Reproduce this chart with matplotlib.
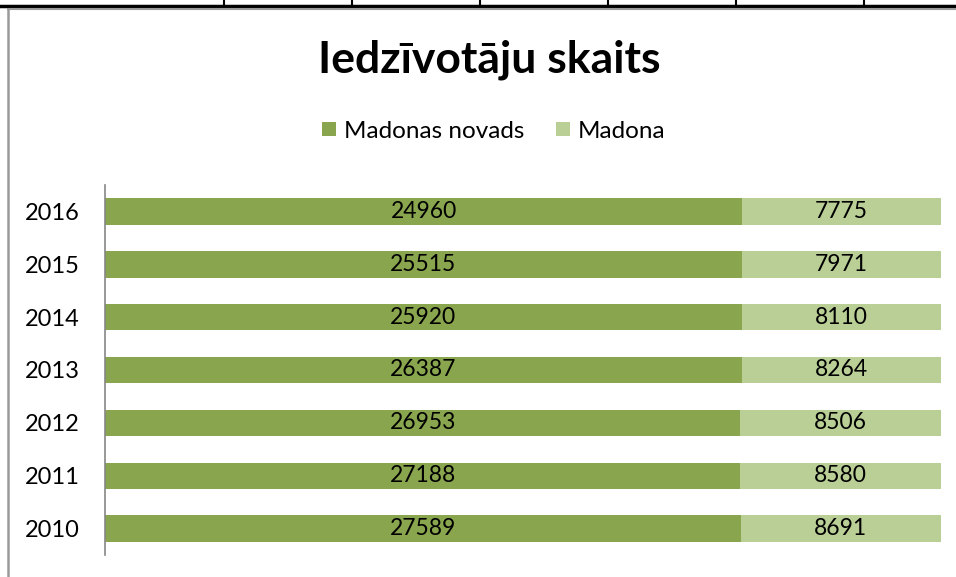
import matplotlib
matplotlib.use("Agg")
import matplotlib.pyplot as plt
from matplotlib.lines import Line2D
from matplotlib.patches import Patch

years = ["2010", "2011", "2012", "2013", "2014", "2015", "2016"]
novads = [27589, 27188, 26953, 26387, 25920, 25515, 24960]
madona = [8691, 8580, 8506, 8264, 8110, 7971, 7775]
title = "Iedzīvotāju skaits"
series_names = ["Madonas novads", "Madona"]
colors = ["#89A54E", "#BACF96"]

plt.rcParams['font.family'] = ['Lato', 'DejaVu Sans']

W, H = 956, 577
fig = plt.figure(figsize=(W / 100, H / 100), dpi=100)
fig.patch.set_facecolor("white")

ax = fig.add_axes([105 / W, (H - 555) / H, (941 - 105) / W, (555 - 185) / H])

tot = [a + b for a, b in zip(novads, madona)]
p1 = [a / t for a, t in zip(novads, tot)]
p2 = [b / t for b, t in zip(madona, tot)]
ypos = list(range(len(years)))

ax.barh(ypos, p1, height=0.5, color=colors[0], edgecolor="none")
ax.barh(ypos, p2, left=p1, height=0.5, color=colors[1], edgecolor="none")

for i in ypos:
    ax.text(p1[i] / 2, i, str(novads[i]), ha="center", va="center", fontsize=16.5, color="black")
    ax.text(p1[i] + p2[i] / 2, i, str(madona[i]), ha="center", va="center", fontsize=16.5, color="black")

ax.set_xlim(0, 1)
ax.set_ylim(-0.5, len(years) - 0.5)
ax.set_yticks(ypos)
ax.set_yticklabels(years, fontsize=17)
ax.set_xticks([])
ax.tick_params(axis="y", length=0, pad=18)
for s in ["top", "right", "bottom"]:
    ax.spines[s].set_visible(False)
ax.spines["left"].set_color("#868686")
ax.spines["left"].set_linewidth(1.2)
ax.set_facecolor("none")

fig.text(489 / W, 1 - 60 / H, title, ha="center", va="center", fontsize=32, fontweight="bold")

handles = [Patch(facecolor=c, edgecolor="none") for c in colors]
fig.legend(handles, series_names, loc="center", bbox_to_anchor=(494 / W, 1 - 131 / H),
           ncol=2, frameon=False, fontsize=17.5, handlelength=0.55, handleheight=0.55,
           handletextpad=0.35, columnspacing=1.3)

# frame / table border remnants
fig.add_artist(Line2D([0, 1], [1 - 6 / H, 1 - 6 / H], color="black", linewidth=2.5))
for xt in [224, 352, 480, 608, 736, 864]:
    fig.add_artist(Line2D([xt / W, xt / W], [1, 1 - 6 / H], color="black", linewidth=1.5))
fig.add_artist(Line2D([8 / W, 1], [1 - 9 / H, 1 - 9 / H], color="#9A9A9A", linewidth=1.5))
fig.add_artist(Line2D([8 / W, 8 / W], [1 - 9 / H, 0], color="#9A9A9A", linewidth=1.8))

fig.savefig("out.png", dpi=100)
